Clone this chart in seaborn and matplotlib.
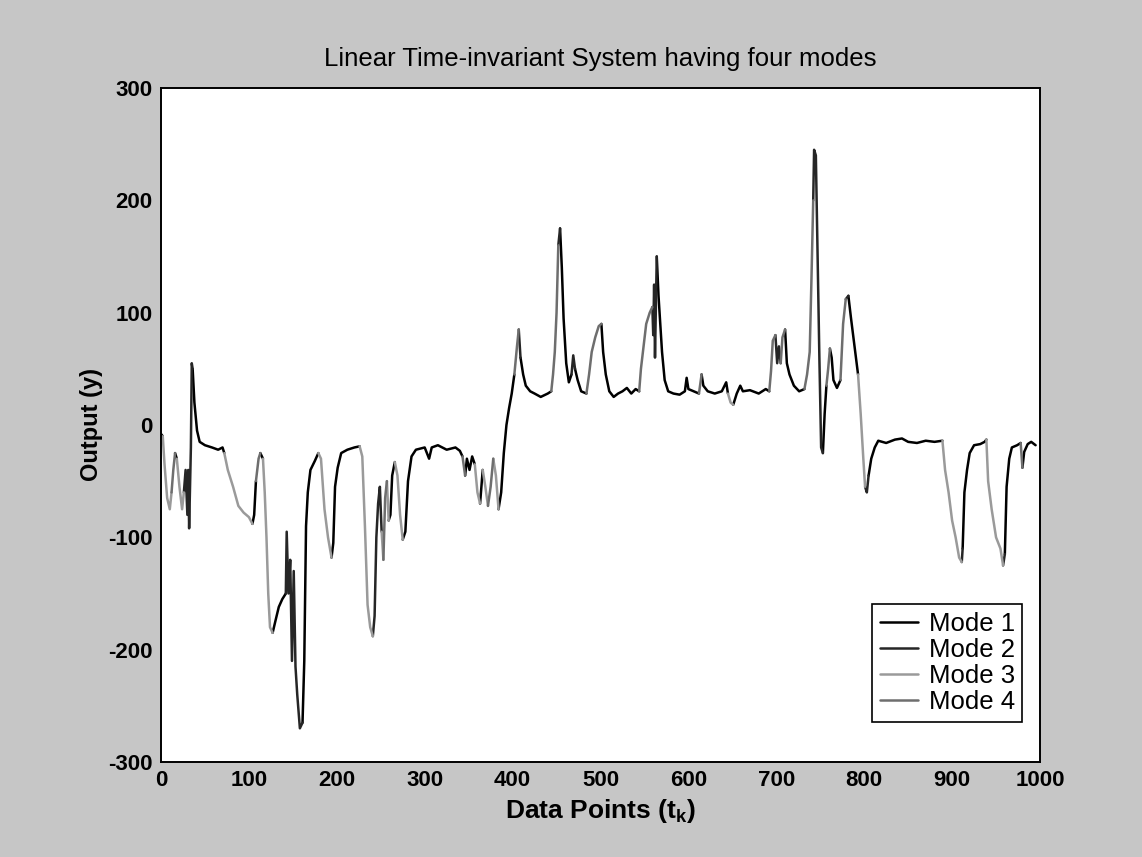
import numpy as np
import pandas as pd
import seaborn as sns
import matplotlib.pyplot as plt

# Output of the LTI system (t = data point index)
t_points = [0, 2, 4, 7, 10, 12, 14, 16, 18, 21, 24, 26, 28, 30, 31, 32, 34, 35, 36, 38,
            41, 44, 50, 58, 65, 70, 72, 76, 82, 88, 94, 100, 104, 106, 108, 111, 113, 116, 118, 120,
            122, 124, 127, 130, 134, 138, 142, 143, 145, 147, 149, 151, 153, 155, 158, 161, 163, 165, 167, 170,
            175, 179, 182, 186, 190, 194, 196, 198, 201, 205, 212, 220, 226, 229, 232, 235, 238, 241, 243, 245,
            247, 249, 251, 253, 255, 257, 259, 261, 263, 266, 269, 272, 275, 278, 281, 285, 290, 300, 305, 308,
            315, 325, 335, 340, 343, 346, 348, 351, 354, 357, 360, 363, 366, 369, 372, 375, 378, 381, 384, 387,
            390, 393, 396, 399, 402, 405, 407, 409, 412, 415, 420, 425, 432, 440, 444, 446, 448, 450, 452, 454,
            456, 458, 461, 464, 467, 469, 471, 474, 478, 484, 487, 490, 494, 498, 501, 503, 506, 510, 515, 520,
            525, 530, 535, 540, 544, 546, 549, 552, 556, 559, 560, 561, 562, 564, 566, 568, 570, 573, 577, 583,
            590, 596, 598, 600, 606, 612, 615, 617, 622, 630, 638, 643, 645, 648, 651, 655, 659, 662, 670, 680,
            688, 692, 694, 696, 699, 701, 703, 705, 707, 710, 712, 715, 720, 726, 732, 735, 738, 740, 742, 743,
            745, 747, 749, 751, 753, 755, 757, 759, 761, 763, 765, 769, 773, 776, 779, 782, 785, 789, 793, 796,
            799, 801, 803, 805, 808, 812, 816, 825, 835, 843, 850, 860, 870, 880, 889, 892, 896, 900, 904, 908,
            911, 912, 914, 917, 920, 925, 932, 937, 939, 941, 945, 950, 955, 958, 960, 962, 965, 968, 974, 978,
            980, 982, 986, 990, 995]
y_points = [-8, -10, -35, -65, -75, -60, -40, -25, -30, -55, -75, -60, -40, -80, -40, -92, -20, 55, 50, 20,
            -5, -15, -18, -20, -22, -20, -25, -40, -55, -72, -78, -82, -88, -80, -50, -30, -25, -30, -60, -100,
            -150, -180, -185, -175, -162, -155, -150, -95, -150, -120, -210, -130, -215, -240, -270, -265, -210, -90, -60, -40,
            -32, -25, -30, -75, -100, -118, -105, -55, -38, -25, -22, -20, -19, -28, -90, -160, -180, -188, -170, -100,
            -70, -55, -95, -120, -65, -50, -85, -80, -45, -33, -45, -80, -102, -95, -50, -28, -22, -20, -30, -20,
            -18, -22, -20, -23, -28, -45, -30, -40, -28, -35, -60, -70, -40, -55, -72, -55, -30, -45, -75, -60,
            -25, 0, 15, 28, 45, 70, 85, 60, 45, 35, 30, 28, 25, 28, 30, 45, 65, 100, 160, 175,
            140, 95, 55, 38, 45, 62, 50, 40, 30, 28, 45, 65, 78, 88, 90, 65, 45, 30, 25, 28,
            30, 33, 28, 32, 30, 50, 70, 90, 100, 105, 80, 125, 60, 150, 115, 90, 65, 40, 30, 28,
            27, 30, 42, 32, 30, 28, 45, 35, 30, 28, 30, 38, 28, 20, 18, 28, 35, 30, 31, 28,
            32, 30, 48, 75, 80, 55, 70, 55, 78, 85, 55, 45, 35, 30, 32, 45, 65, 130, 200, 245,
            240, 150, 60, -20, -25, 10, 35, 50, 68, 60, 40, 33, 40, 90, 112, 115, 95, 70, 45, 10,
            -30, -55, -60, -45, -30, -20, -14, -16, -13, -12, -15, -16, -14, -15, -14, -40, -60, -85, -100, -118,
            -122, -110, -60, -40, -25, -18, -17, -15, -13, -50, -75, -100, -110, -125, -115, -55, -30, -20, -18, -16,
            -38, -24, -17, -15, -18]
# mode active on the segment that ends at each point
mode_points = [1, 1, 3, 3, 3, 3, 4, 4, 1, 3, 3, 3, 2, 2, 2, 2, 2, 2, 2, 1,
               1, 1, 1, 1, 1, 1, 1, 3, 3, 3, 3, 3, 3, 1, 1, 4, 4, 1, 3, 3,
               3, 3, 3, 1, 1, 1, 1, 2, 2, 2, 2, 2, 2, 2, 2, 2, 1, 1, 1, 1,
               1, 1, 3, 3, 3, 3, 1, 1, 1, 1, 1, 1, 1, 3, 3, 3, 3, 3, 2, 2,
               2, 2, 2, 3, 4, 4, 3, 1, 1, 1, 3, 3, 3, 1, 1, 1, 1, 1, 1, 1,
               1, 1, 1, 1, 1, 4, 1, 1, 1, 1, 3, 3, 1, 3, 3, 4, 4, 3, 3, 1,
               1, 1, 1, 1, 1, 4, 4, 2, 1, 1, 1, 1, 1, 1, 1, 4, 4, 4, 4, 2,
               1, 1, 1, 1, 1, 2, 2, 1, 1, 1, 4, 4, 4, 4, 4, 1, 1, 1, 1, 1,
               1, 1, 1, 1, 1, 4, 4, 4, 4, 4, 2, 2, 2, 2, 1, 1, 1, 1, 1, 1,
               1, 1, 1, 1, 1, 1, 4, 1, 1, 1, 1, 1, 1, 3, 3, 1, 1, 1, 1, 1,
               1, 1, 4, 4, 4, 2, 2, 2, 4, 4, 1, 1, 1, 1, 1, 4, 4, 4, 4, 2,
               2, 2, 2, 2, 2, 1, 1, 4, 4, 1, 1, 1, 1, 4, 4, 2, 1, 1, 1, 3,
               3, 3, 2, 2, 1, 1, 1, 1, 1, 1, 1, 1, 1, 1, 1, 3, 3, 3, 3, 3,
               3, 2, 1, 1, 1, 1, 1, 1, 1, 3, 3, 3, 3, 3, 2, 1, 1, 1, 1, 1,
               4, 1, 1, 1, 1]

mode_names = ['Mode 1', 'Mode 2', 'Mode 3', 'Mode 4']
mode_colors = ['#000000', '#262626', '#9a9a9a', '#6e6e6e']

# split the trace into runs of one mode so each run is drawn as its own unit
rows = []
seg = 0
for i in range(1, len(t_points)):
    if i == 1 or mode_points[i] != mode_points[i - 1]:
        seg += 1
        rows.append((t_points[i - 1], y_points[i - 1], mode_names[mode_points[i] - 1], seg))
    rows.append((t_points[i], y_points[i], mode_names[mode_points[i] - 1], seg))
df = pd.DataFrame(rows, columns=['t', 'y', 'Mode', 'seg'])

sns.set_style('white')
plt.rcParams['font.family'] = ['Liberation Sans', 'DejaVu Sans']
plt.rcParams['text.color'] = 'black'
plt.rcParams['axes.labelcolor'] = 'black'
plt.rcParams['axes.unicode_minus'] = False
plt.rcParams['mathtext.fontset'] = 'custom'
plt.rcParams['mathtext.rm'] = 'Liberation Sans'
plt.rcParams['mathtext.bf'] = 'Liberation Sans:bold'

fig = plt.figure(figsize=(11.42, 8.57), dpi=100, facecolor='#c6c6c6')
ax = fig.add_axes([161 / 1142, 1 - 762 / 857, 879 / 1142, 674 / 857])
ax.set_facecolor('white')

sns.lineplot(data=df, x='t', y='y', hue='Mode', units='seg', estimator=None, sort=False,
             hue_order=mode_names, palette=mode_colors, linewidth=1.8, ax=ax)

ax.set_xlim(0, 1000)
ax.set_ylim(-300, 300)
ax.set_xticks(np.arange(0, 1001, 100))
ax.set_yticks(np.arange(-300, 301, 100))
for s in ax.spines.values():
    s.set_color('black')
    s.set_linewidth(1.4)
ax.tick_params(direction='in', length=7, width=1.2, labelsize=16, colors='black', pad=6)
for lab in ax.get_xticklabels() + ax.get_yticklabels():
    lab.set_fontweight('bold')

ax.set_title('Linear Time-invariant System having four modes', fontsize=18.5, pad=16)
ax.set_xlabel('Data Points (t$_\\mathbf{k}$)', fontsize=19, fontweight='bold', labelpad=4)
ax.set_ylabel('Output (y)', fontsize=17, fontweight='bold', labelpad=4)

leg = ax.legend(loc='lower right', bbox_to_anchor=(0.98, 0.06), fontsize=18.5, frameon=True,
                fancybox=False, edgecolor='black', framealpha=1, handlelength=1.5,
                labelspacing=0.08, borderpad=0.3, handletextpad=0.4, borderaxespad=0)
leg.get_frame().set_linewidth(1.2)
for line in leg.get_lines():
    line.set_linewidth(1.8)

fig.savefig('out.png', dpi=100, facecolor=fig.get_facecolor())
